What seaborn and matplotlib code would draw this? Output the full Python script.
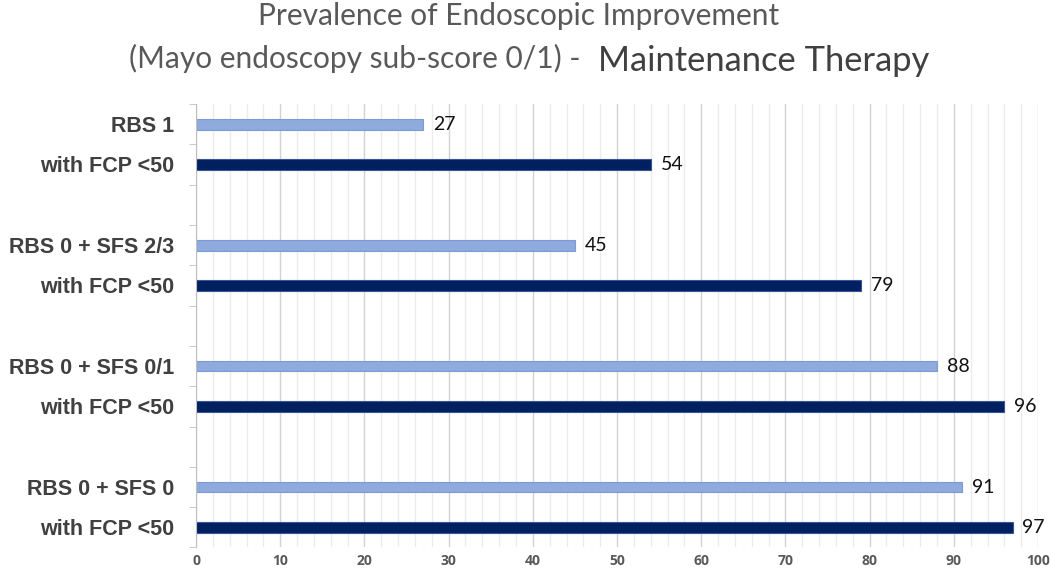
import pandas as pd
import matplotlib.pyplot as plt
import seaborn as sns
from matplotlib.ticker import MultipleLocator, FixedLocator

# data
groups = ["RBS 1", "RBS 0 + SFS 2/3", "RBS 0 + SFS 0/1", "RBS 0 + SFS 0"]
overall = [27, 45, 88, 91]
with_fcp = [54, 79, 96, 97]
sub_label = "with FCP <50"
xticks = list(range(0, 101, 10))

rows = []
order = []
for i, g in enumerate(groups):
    rows.append({"key": g, "label": g, "value": overall[i], "kind": "all"})
    rows.append({"key": g + " fcp", "label": sub_label, "value": with_fcp[i], "kind": "fcp"})
    order += [g, g + " fcp"]
    if i < len(groups) - 1:
        order.append("gap%d" % i)
df = pd.DataFrame(rows)

sns.set_style("white")
fig = plt.figure(figsize=(10.5, 5.76), dpi=100)
ax = fig.add_axes([0.1867, 0.0495, 0.8019, 0.770])

sns.barplot(data=df, x="value", y="key", hue="kind", order=order,
            palette={"all": "#8FAADC", "fcp": "#002060"}, dodge=False,
            width=0.27, legend=False, ax=ax, saturation=1, linewidth=0.8)
for c, ec in zip(ax.containers, ["#7C9BD6", "#3A5596"]):
    for p in c:
        p.set_edgecolor(ec)
    ax.bar_label(c, padding=7, fontsize=14, family="Lato", color="#111111")

ax.set_xlim(0, 100)
ax.set_xticks(xticks)
ax.xaxis.set_minor_locator(MultipleLocator(2))
ax.grid(axis="x", which="major", color="#d2d2d2", linewidth=1.0)
ax.grid(axis="x", which="minor", color="#ececec", linewidth=1.0)
ax.set_axisbelow(True)

labels = {r["key"]: r["label"] for r in rows}
ax.set_yticks(range(len(order)))
ax.set_yticklabels([labels.get(k, "") for k in order], fontsize=15.5,
                   fontweight="bold", family="Liberation Sans", color="#404040")
ax.yaxis.set_minor_locator(FixedLocator([i - 0.5 for i in range(len(order) + 1)]))
ax.tick_params(axis="y", which="major", length=0, pad=16)
ax.tick_params(axis="y", which="minor", length=5, color="#bfbfbf", left=True)
ax.tick_params(axis="x", which="both", length=0, pad=5)
for t in ax.get_xticklabels():
    t.set_fontsize(10)
    t.set_fontweight("bold")
    t.set_color("#595959")
    t.set_family("Open Sans")

ax.set_xlabel("")
ax.set_ylabel("")
for s in ["top", "right", "bottom"]:
    ax.spines[s].set_visible(False)
ax.spines["left"].set_color("#bfbfbf")


def fit_width(t, px):
    # scale a text's font size so it spans px pixels
    r = fig.canvas.get_renderer()
    w = t.get_window_extent(r).width
    t.set_fontsize(t.get_fontsize() * px / w)


sub1 = fig.text(0.5524, 0.882, "(Mayo endoscopy sub-score 0/1) -", ha="right",
                va="baseline", fontsize=20, family="Lato", color="#595959")
fit_width(sub1, 452)
fig.text(0.2457, 0.9566, "Prevalence of Endoscopic Improvement", ha="left",
         va="baseline", fontsize=sub1.get_fontsize(), family="Lato",
         color="#595959")
sub2 = fig.text(0.5695, 0.8767, "Maintenance Therapy", ha="left",
                va="baseline", fontsize=24, family="Lato", color="#404040")
fit_width(sub2, 332)

fig.savefig("out.png", dpi=100)
